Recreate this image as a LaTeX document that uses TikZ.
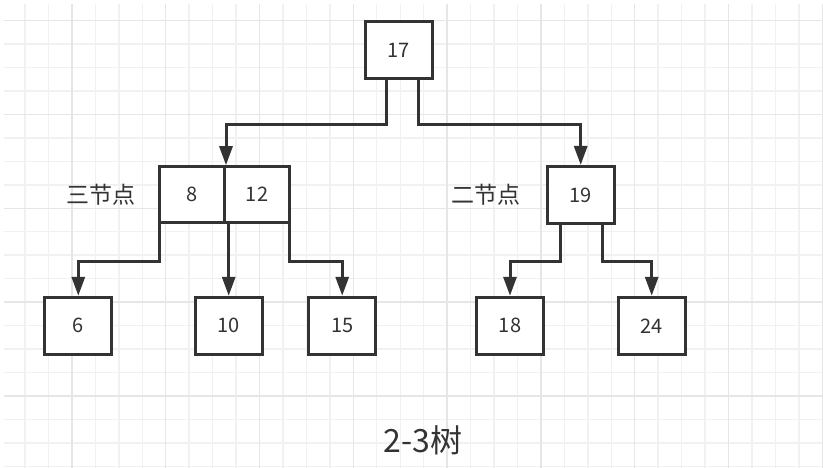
\documentclass[tikz,border=0pt]{standalone}
\usepackage{fontspec}
\setmainfont{Noto Sans CJK SC}
\usepackage{tikz}
\usetikzlibrary{arrows.meta,positioning,calc}
\definecolor{inkgray}{HTML}{333333}
\definecolor{gridminor}{HTML}{F1F1F1}
\definecolor{gridmajor}{HTML}{E6E6E6}

\begin{document}
\begin{tikzpicture}[x=1pt,y=-1pt,
    keybox/.style={draw=inkgray,line width=3pt,fill=white,minimum width=67pt,minimum height=57pt,
      inner sep=0pt,text=inkgray,font=\fontsize{20}{24}\selectfont},
    tag/.style={inner sep=0pt,text=inkgray,font=\fontsize{23}{27}\selectfont},
    link/.style={draw=inkgray,line width=3pt,-{Triangle[length=19pt,width=13pt]}}]
        \useasboundingbox (0,0) rectangle (823,468);
        \fill[white] (0,0) rectangle (823,468);
        \foreach \k in {0,...,34}{\draw[gridminor,line width=1.4pt] ({25+23.45*\k},4)--({25+23.45*\k},468);}
        \foreach \k in {0,...,19}{\draw[gridminor,line width=1.4pt] (4,{20.7+23.45*\k})--(823,{20.7+23.45*\k});}
        \foreach \k in {2,6,...,34}{\draw[gridmajor,line width=1.4pt] ({25+23.45*\k},4)--({25+23.45*\k},468);}
        \foreach \k in {0,4,...,16}{\draw[gridmajor,line width=1.4pt] (4,{20.7+23.45*\k})--(823,{20.7+23.45*\k});}
        \node[keybox] (n17) at (398.5,50.5) {17};
        \node[keybox,minimum width=65pt,minimum height=56pt] (n8) at (192,194.7) {8};
        \node[keybox,minimum width=65pt,minimum height=56pt] (n12) at (257,194.7) {12};
        \node[keybox] (n19) at (580.7,195) {19};
        \node[keybox] (n6) at (78.3,325.8) {6};
        \node[keybox] (n10) at (228.7,325.8) {10};
        \node[keybox] (n15) at (342.2,325.8) {15};
        \node[keybox] (n18) at (510,325.8) {18};
        \node[keybox] (n24) at (651.7,325.8) {24};
        \node[tag,left=22pt of n8] (three) {三节点};
        \node[tag,left=25pt of n19] (two) {二节点};
        \node[inner sep=0pt,text=inkgray,font=\fontsize{32}{38}\selectfont] (title) at (423,440.7) {2-3树};
        \draw[link] ([xshift=-12.5pt]n17.south) -- ++(0,44) -| (n8.north east);
        \draw[link] ([xshift=20pt]n17.south) -- ++(0,44) -| (n19.north);
        \draw[link] ([xshift=1.5pt]n8.south west) -- ++(0,37) -| (n6.north);
        \draw[link] (n10.north |- n8.south) -- (n10.north);
        \draw[link] ([xshift=-1.5pt]n12.south east) -- ++(0,37) -| (n15.north);
        \draw[link] ([xshift=-20pt]n19.south) -- ++(0,37) -| (n18.north);
        \draw[link] ([xshift=22pt]n19.south) -- ++(0,37) -| (n24.north);
      \end{tikzpicture}
\end{document}
